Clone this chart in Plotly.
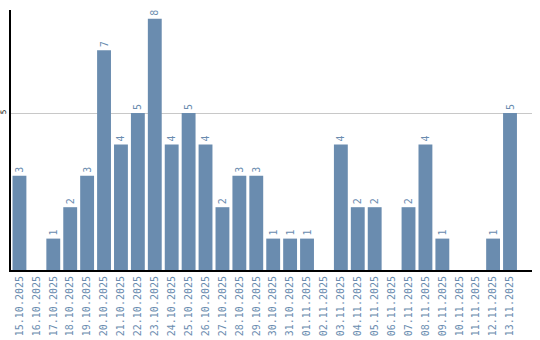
import plotly.graph_objects as go

dates = ["15.10.2025","16.10.2025","17.10.2025","18.10.2025","19.10.2025","20.10.2025",
         "21.10.2025","22.10.2025","23.10.2025","24.10.2025","25.10.2025","26.10.2025",
         "27.10.2025","28.10.2025","29.10.2025","30.10.2025","31.10.2025","01.11.2025",
         "02.11.2025","03.11.2025","04.11.2025","05.11.2025","06.11.2025","07.11.2025",
         "08.11.2025","09.11.2025","10.11.2025","11.11.2025","12.11.2025","13.11.2025"]
counts = [3,0,1,2,3,7,4,5,8,4,5,4,2,3,3,1,1,1,0,4,2,2,0,2,4,1,0,0,1,5]

color = "#6a8caf"
idx = list(range(len(dates)))
labels = [str(v) if v > 0 else "" for v in counts]

fig = go.Figure(go.Bar(
    x=idx, y=counts, marker_color=color, marker_line_width=0,
    text=labels, textposition="outside", textangle=-90,
    textfont=dict(family="DejaVu Sans Mono", size=10, color=color),
    cliponaxis=False, hoverinfo="skip",
))

fig.update_layout(
    width=540, height=340,
    margin=dict(l=11, r=8, t=10, b=70),
    paper_bgcolor="white", plot_bgcolor="white",
    bargap=0.18, showlegend=False,
    xaxis=dict(
        range=[-0.5, 30.3], tickmode="array", tickvals=idx, ticktext=dates,
        tickangle=-90, tickfont=dict(family="DejaVu Sans Mono", size=10, color=color),
        showline=True, linecolor="black", linewidth=2, showgrid=False,
        ticks="", zeroline=False, automargin=False,
    ),
    yaxis=dict(
        range=[0, 8.28], tickmode="array", tickvals=[5], ticktext=["5"],
        tickangle=-90, tickfont=dict(family="DejaVu Sans", size=7.5, color="black"),
        showline=True, linecolor="black", linewidth=2,
        showgrid=True, gridcolor="#c8c8c8", gridwidth=1,
        ticks="", zeroline=False, automargin=False, ticklabelstandoff=0,
    ),
)

fig.write_html("out.html")
